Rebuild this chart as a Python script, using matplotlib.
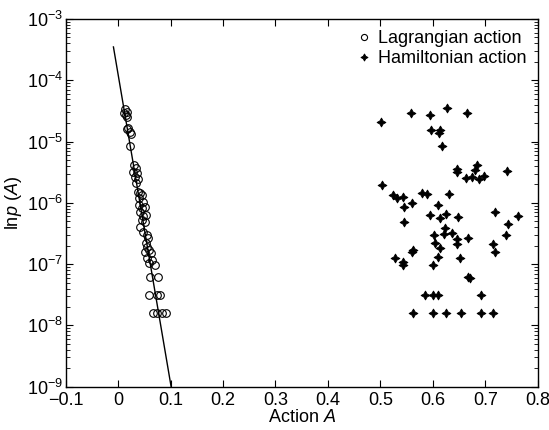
import matplotlib
matplotlib.use("Agg")
import matplotlib.pyplot as plt

plt.rcParams['font.family'] = ['Liberation Sans', 'DejaVu Sans']
plt.rcParams['mathtext.fontset'] = 'custom'
plt.rcParams['mathtext.rm'] = 'Liberation Sans'
plt.rcParams['mathtext.it'] = 'Liberation Sans:italic'

# Lagrangian action samples
lag_x = [0.0132, 0.0163, 0.0144, 0.0176, 0.0113,
         0.0195, 0.0227, 0.0246, 0.0163,
         0.0227,
         0.0303, 0.0342, 0.0290, 0.0367, 0.0323, 0.0386, 0.0342,
         0.0373, 0.0418, 0.0450, 0.0405, 0.0469,
         0.0399, 0.0513, 0.0450, 0.0418, 0.0532, 0.0481, 0.0450, 0.0513, 0.0418,
         0.0469, 0.0558, 0.0577, 0.0532, 0.0558, 0.0596, 0.0513, 0.0622, 0.0558, 0.0641, 0.0596, 0.0704,
         0.0609, 0.0768,
         0.0596, 0.0736, 0.0800,
         0.0672, 0.0749, 0.0831, 0.0914]
lag_y = [3.40e-5, 3.08e-5, 2.72e-5, 2.49e-5, 2.96e-5,
         1.65e-5, 1.45e-5, 1.33e-5, 1.58e-5,
         8.5e-6,
         4.15e-6, 3.66e-6, 3.23e-6, 3.03e-6, 2.68e-6, 2.43e-6, 2.14e-6,
         1.52e-6, 1.43e-6, 1.35e-6, 1.19e-6, 1.05e-6,
         9.2e-7, 8.7e-7, 8.2e-7, 7.2e-7, 6.4e-7, 6.0e-7, 5.3e-7, 4.9e-7, 4.1e-7,
         3.4e-7, 3.0e-7, 2.64e-7, 2.19e-7, 1.93e-7, 1.71e-7, 1.60e-7, 1.50e-7, 1.25e-7, 1.17e-7, 1.03e-7, 9.7e-8,
         6.25e-8, 6.25e-8,
         3.15e-8, 3.15e-8, 3.15e-8,
         1.58e-8, 1.58e-8, 1.58e-8, 1.58e-8]

# Hamiltonian action samples
ham_x = [0.501, 0.558, 0.595, 0.628, 0.666, 0.597, 0.613, 0.611, 0.618,
         0.646, 0.647, 0.684, 0.681, 0.742, 0.664, 0.675, 0.689, 0.697,
         0.503, 0.524, 0.532, 0.543, 0.579, 0.588, 0.631, 0.546, 0.561, 0.609,
         0.594, 0.613, 0.626, 0.648, 0.718, 0.763, 0.546, 0.744, 0.624, 0.637,
         0.603, 0.622, 0.646, 0.668, 0.740, 0.605, 0.647, 0.614, 0.563, 0.560,
         0.715, 0.718, 0.609, 0.527, 0.544, 0.543, 0.600, 0.651, 0.668, 0.670,
         0.586, 0.600, 0.610, 0.692,
         0.563, 0.600, 0.626, 0.654, 0.692, 0.714]
ham_y = [2.11e-5, 2.96e-5, 2.72e-5, 3.49e-5, 2.90e-5, 1.55e-5, 1.55e-5, 1.37e-5, 8.5e-6,
         3.53e-6, 3.23e-6, 4.15e-6, 3.44e-6, 3.35e-6, 2.52e-6, 2.62e-6, 2.43e-6, 2.75e-6,
         1.96e-6, 1.35e-6, 1.19e-6, 1.26e-6, 1.47e-6, 1.40e-6, 1.40e-6, 8.4e-7, 9.8e-7, 9.2e-7,
         6.4e-7, 5.7e-7, 6.6e-7, 5.8e-7, 7.2e-7, 6.1e-7, 4.9e-7, 4.5e-7, 3.85e-7, 3.27e-7,
         2.99e-7, 3.11e-7, 2.55e-7, 2.64e-7, 2.99e-7, 2.19e-7, 2.14e-7, 1.82e-7, 1.71e-7, 1.60e-7,
         2.14e-7, 1.56e-7, 1.30e-7, 1.25e-7, 1.10e-7, 9.7e-8, 9.7e-8, 1.28e-7, 6.25e-8, 5.9e-8,
         3.15e-8, 3.15e-8, 3.15e-8, 3.15e-8,
         1.58e-8, 1.58e-8, 1.58e-8, 1.58e-8, 1.58e-8, 1.58e-8]

# fitted line
fit_x = [-0.009, 0.101]
fit_y = [3.5e-4, 1.0e-9]

fig = plt.figure(figsize=(5.49, 4.30), dpi=100)
ax = fig.add_axes([0.1197, 0.1007, 0.8597, 0.8551])

ax.plot(fit_x, fit_y, color='black', lw=1.0, zorder=2)
ax.plot(lag_x, lag_y, linestyle='none', marker='o', markersize=5.5,
        markerfacecolor='none', markeredgecolor='black', markeredgewidth=0.8,
        label='Lagrangian action', zorder=3)
ax.plot(ham_x, ham_y, linestyle='none', marker=(4, 1, 0), markersize=6.5,
        color='black', markeredgewidth=0.6,
        label='Hamiltonian action', zorder=3)

ax.set_yscale('log')
ax.set_xlim(-0.1, 0.8)
ax.set_ylim(1e-9, 1e-3)
ax.set_xticks([-0.1, 0, 0.1, 0.2, 0.3, 0.4, 0.5, 0.6, 0.7, 0.8])
ax.set_xticklabels(['\u22120.1', '0', '0.1', '0.2', '0.3', '0.4', '0.5', '0.6', '0.7', '0.8'])
ax.tick_params(axis='both', which='both', direction='in', top=True, right=True, labelsize=13)
ax.tick_params(axis='both', which='major', length=5, width=0.8)
ax.tick_params(axis='x', which='major', pad=4)
ax.tick_params(axis='y', which='major', pad=2)
ax.tick_params(axis='y', which='minor', length=3, width=0.6)
for s in ax.spines.values():
    s.set_linewidth(1.0)

ax.set_xlabel('Action $A$', fontsize=13, labelpad=0)
ax.set_ylabel('ln$p$ ($A$)', fontsize=13, labelpad=2)

leg = ax.legend(loc='upper right', frameon=False, fontsize=13, handlelength=0.6,
                handletextpad=0.5, borderaxespad=0.2, labelspacing=0.2, markerscale=0.8)

fig.savefig('out.png', dpi=100)
